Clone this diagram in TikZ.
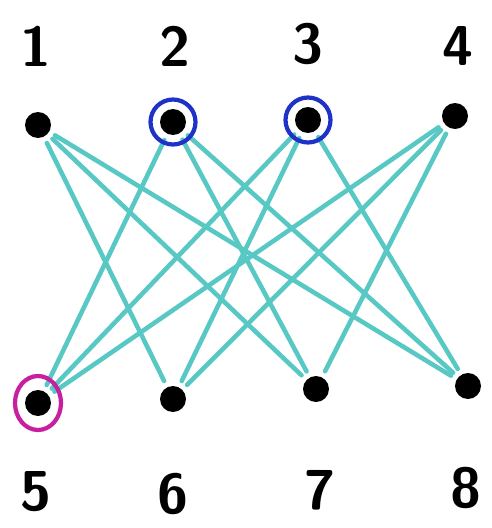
\documentclass[tikz,border=0pt]{standalone}
\usepackage{xcolor}
\usepackage{tikz}
\usetikzlibrary{arrows.meta,positioning,calc,shapes.geometric}

\definecolor{edgeteal}{RGB}{88,200,196}
\definecolor{ringblue}{RGB}{30,50,200}
\definecolor{ringpink}{RGB}{200,30,160}

\begin{document}
\begin{tikzpicture}[
  x=0.02cm, y=-0.02cm,
  vdot/.style={circle, fill=black, inner sep=0pt, minimum size=0.52cm,
               outer sep=0.14cm},
  vlabel/.style={font=\sffamily\bfseries\fontsize{32}{32}\selectfont},
  gedge/.style={edgeteal, line width=2.6pt, line cap=round},
  ring/.style={draw, circle, line width=2.4pt, inner sep=0pt},
]
\useasboundingbox (0,0) rectangle (491,528);

%%---- Top row ------------------------------------------------------
\node[vdot] (v1) at (38,125) {};
\node[vdot] (v2) at (173,122) {};
\node[vdot] (v3) at (308,120) {};
\node[vdot] (v4) at (455,116) {};

%%---- Bottom row ---------------------------------------------------
\node[vdot] (v5) at (38,403) {};
\node[vdot] (v6) at (173,399) {};
\node[vdot] (v7) at (316,389) {};
\node[vdot] (v8) at (468,386) {};

%%---- Edges (cube graph: every pair except i -- i+4) ---------------
\draw[gedge] (v1) -- (v6);
\draw[gedge] (v1) -- (v7);
\draw[gedge] (v1) -- (v8);
\draw[gedge] (v2) -- (v5);
\draw[gedge] (v2) -- (v7);
\draw[gedge] (v2) -- (v8);
\draw[gedge] (v3) -- (v5);
\draw[gedge] (v3) -- (v6);
\draw[gedge] (v3) -- (v8);
\draw[gedge] (v4) -- (v5);
\draw[gedge] (v4) -- (v6);
\draw[gedge] (v4) -- (v7);

%%---- Marked vertices ----------------------------------------------
\node[ring, ringblue, minimum size=0.9cm] (r2) at (v2) {};
\node[ring, ringblue, minimum size=0.9cm] (r3) at (v3) {};
\node[ring, ringpink, ellipse, minimum width=0.92cm,
      minimum height=1.08cm] (r5) at (v5) {};

%%---- Labels -------------------------------------------------------
\node[vlabel] (l1) at (36,46) {1};
\node[vlabel] (l2) at (175,46) {2};
\node[vlabel] (l3) at (308,44) {3};
\node[vlabel] (l4) at (458,46) {4};
\node[vlabel] (l5) at (36,492) {5};
\node[vlabel] (l6) at (173,494) {6};
\node[vlabel] (l7) at (320,490) {7};
\node[vlabel] (l8) at (466,488) {8};

\end{tikzpicture}
\end{document}
